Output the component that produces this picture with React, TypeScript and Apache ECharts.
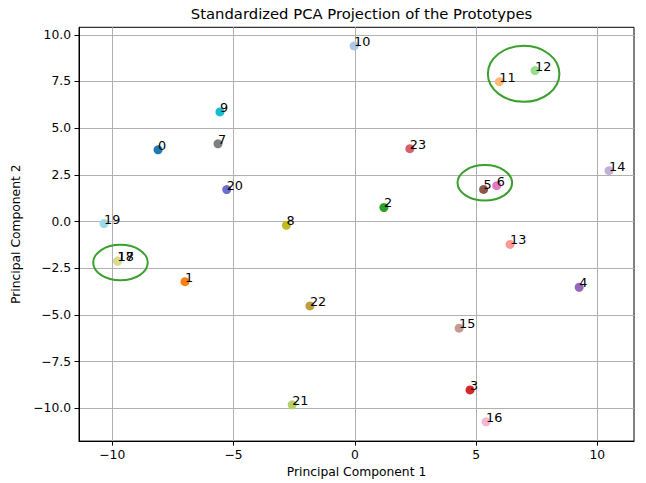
import React, { useEffect, useRef } from "react";
import * as echarts from "echarts";

const pointIds = ["0","1","2","3","4","5","6","7","8","9","10","11","12","13","14","15","16","17","18","19","20","21","22","23"];
const pc1 = [-8.11, -7.0, 1.2, 4.75, 9.25, 5.31, 5.85, -5.64, -2.82, -5.56, -0.03, 5.96, 7.43, 6.4, 10.48, 4.3, 5.41, -9.78, -9.78, -10.34, -5.28, -2.58, -1.85, 2.27];
const pc2 = [3.84, -3.22, 0.75, -9.02, -3.52, 1.72, 1.92, 4.16, -0.2, 5.87, 9.4, 7.49, 8.08, -1.23, 2.72, -5.71, -10.73, -2.12, -2.12, -0.11, 1.71, -9.82, -4.52, 3.9];
const pointColors = [
  "#1f77b4", "#ff7f0e", "#2ca02c", "#d62728", "#9467bd", "#8c564b", "#e377c2", "#7f7f7f",
  "#bcbd22", "#17becf", "#aec7e8", "#ffbb78", "#98df8a", "#ff9896", "#c5b0d5", "#c49c94",
  "#f7b6d2", "#c7c7c7", "#dbdb8d", "#9edae5", "#6b6ecf", "#b5cf6b", "#bd9e39", "#d6616b",
];

// highlighted clusters: center x, center y, width, height (data units)
const ellipseCx = [-9.66, 5.36, 6.96];
const ellipseCy = [-2.2, 2.07, 7.91];
const ellipseW = [2.25, 2.25, 2.95];
const ellipseH = [1.9, 1.9, 3.0];

const xTicks = [-10, -5, 0, 5, 10];
const yTicks = [-10, -7.5, -5, -2.5, 0, 2.5, 5, 7.5, 10];

const FONT = "DejaVu Sans";
const minus = (s: string) => s.replace("-", "\u2212");

export default function App() {
  const ref = useRef<HTMLDivElement>(null);
  useEffect(() => {
    if (!ref.current) return;
    const chart = echarts.init(ref.current, undefined, { renderer: "svg" });
    const scatterData = pointIds.map((id, i) => ({
      name: id,
      value: [pc1[i], pc2[i]],
      itemStyle: { color: pointColors[i], opacity: 1 },
    }));
    const ellipseData = ellipseCx.map((cx, i) => [cx, ellipseCy[i], ellipseW[i], ellipseH[i]]);
    chart.setOption({
      animation: false,
      backgroundColor: "#fff",
      textStyle: { fontFamily: FONT },
      title: {
        text: "Standardized PCA Projection of the Prototypes",
        left: 356.5,
        top: 1,
        textAlign: "center",
        textStyle: { fontFamily: FONT, fontSize: 14.8, fontWeight: "normal", color: "#000" },
      },
      grid: {
        left: 79,
        right: 12,
        top: 27.3,
        bottom: 40.7,
        show: true,
        borderColor: "#000",
        borderWidth: 1,
        backgroundColor: "transparent",
      },
      xAxis: {
        type: "value",
        min: -11.37,
        max: 11.51,
        name: "Principal Component 1",
        nameLocation: "middle",
        nameGap: 23,
        nameTextStyle: { fontFamily: FONT, fontSize: 12.3, color: "#000" },
        axisLine: { show: true, onZero: false, lineStyle: { color: "#000", width: 1 } },
        axisTick: { show: true, inside: false, length: 4.5, customValues: xTicks, lineStyle: { color: "#000" } },
        axisLabel: {
          customValues: xTicks,
          margin: 8,
          fontFamily: FONT,
          fontSize: 12.3,
          color: "#000",
          formatter: (v: number) => minus(String(v)),
        },
        splitLine: { show: true, lineStyle: { color: "#b0b0b0", width: 1 } },
      },
      yAxis: {
        type: "value",
        min: -11.76,
        max: 10.4,
        name: "Principal Component 2",
        nameLocation: "middle",
        nameGap: 44,
        nameTextStyle: { fontFamily: FONT, fontSize: 12.3, color: "#000" },
        axisLine: { show: true, onZero: false, lineStyle: { color: "#000", width: 1 } },
        axisTick: { show: true, inside: false, length: 4.5, customValues: yTicks, lineStyle: { color: "#000" } },
        axisLabel: {
          customValues: yTicks,
          margin: 8,
          fontFamily: FONT,
          fontSize: 12.3,
          color: "#000",
          formatter: (v: number) => minus(v.toFixed(1)),
        },
        splitLine: { show: true, lineStyle: { color: "#b0b0b0", width: 1 } },
      },
      series: [
        {
          type: "scatter",
          symbol: "circle",
          symbolSize: 9,
          data: scatterData,
          label: {
            show: true,
            position: [4.5, 4.5],
            align: "left",
            verticalAlign: "bottom",
            offset: [0, 2],
            formatter: (p: any) => p.name,
            fontFamily: FONT,
            fontSize: 12.8,
            color: "#000",
          },
          emphasis: { disabled: true },
        },
        {
          type: "custom",
          silent: true,
          z: 5,
          data: ellipseData,
          renderItem: (params: any, api: any) => {
            const c = api.coord([api.value(0), api.value(1)]);
            const s = api.size([api.value(2), api.value(3)]);
            return {
              type: "ellipse",
              shape: { cx: c[0], cy: c[1], rx: s[0] / 2, ry: s[1] / 2 },
              style: { fill: "none", stroke: "#3a9f2c", lineWidth: 2 },
            };
          },
        },
      ],
    });
    return () => chart.dispose();
  }, []);
  return <div ref={ref} style={{ position: "fixed", left: 0, top: 0, width: 646, height: 483 }} />;
}
